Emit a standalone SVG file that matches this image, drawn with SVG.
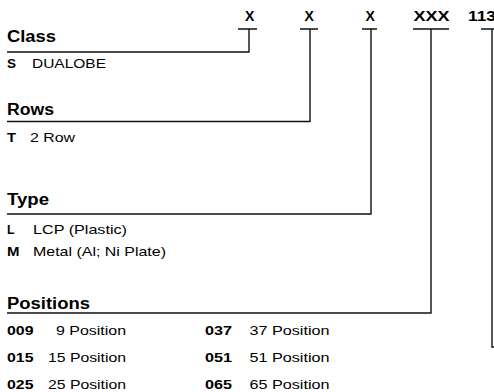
<svg xmlns="http://www.w3.org/2000/svg" width="494" height="392" viewBox="0 0 494 392">
<style>
text{font-family:"Liberation Sans",Arial,sans-serif;fill:#000}
.h{font-weight:bold;font-size:16px}
.c{font-weight:bold;font-size:14px}
.k{font-weight:bold;font-size:13px}
.t{font-size:13px}
.ln{fill:none;stroke:#111;stroke-width:1.4}
</style>
<rect width="494" height="392" fill="#fff"/>
<g id="code">
<text class="c" x="245" y="21">X</text>
<text class="c" x="304.5" y="21">X</text>
<text class="c" x="365.5" y="21">X</text>
<text class="c" x="413.5" y="21" textLength="36" lengthAdjust="spacingAndGlyphs">XXX</text>
<text class="c" x="468" y="21" textLength="28" lengthAdjust="spacingAndGlyphs">113</text>
</g>
<g id="class">
<text class="h" x="7" y="41.5" textLength="49" lengthAdjust="spacingAndGlyphs">Class</text>
<text class="k" x="7" y="68" textLength="9" lengthAdjust="spacingAndGlyphs">S</text>
<text class="t" x="32" y="68" textLength="74" lengthAdjust="spacingAndGlyphs">DUALOBE</text>
</g>
<g id="rows">
<text class="h" x="7" y="115" textLength="47" lengthAdjust="spacingAndGlyphs">Rows</text>
<text class="k" x="7" y="141.5" textLength="9" lengthAdjust="spacingAndGlyphs">T</text>
<text class="t" x="30" y="141.5" textLength="45" lengthAdjust="spacingAndGlyphs">2 Row</text>
</g>
<g id="type">
<text class="h" x="7" y="205" textLength="42" lengthAdjust="spacingAndGlyphs">Type</text>
<text class="k" x="7" y="233.5" textLength="7.5" lengthAdjust="spacingAndGlyphs">L</text>
<text class="t" x="33" y="233.5" textLength="94" lengthAdjust="spacingAndGlyphs">LCP (Plastic)</text>
<text class="k" x="7" y="256" textLength="12.5" lengthAdjust="spacingAndGlyphs">M</text>
<text class="t" x="33" y="256" textLength="133" lengthAdjust="spacingAndGlyphs">Metal (Al; Ni Plate)</text>
</g>
<g id="positions">
<text class="h" x="7" y="308.5" textLength="83" lengthAdjust="spacingAndGlyphs">Positions</text>
<text class="k" x="7" y="335" textLength="26.5" lengthAdjust="spacingAndGlyphs">009</text>
<text class="t" x="56" y="335" textLength="70" lengthAdjust="spacingAndGlyphs">9 Position</text>
<text class="k" x="7" y="362" textLength="26.5" lengthAdjust="spacingAndGlyphs">015</text>
<text class="t" x="48" y="362" textLength="78" lengthAdjust="spacingAndGlyphs">15 Position</text>
<text class="k" x="7" y="388.5" textLength="26.5" lengthAdjust="spacingAndGlyphs">025</text>
<text class="t" x="48" y="388.5" textLength="78" lengthAdjust="spacingAndGlyphs">25 Position</text>
<text class="k" x="205" y="335" textLength="27" lengthAdjust="spacingAndGlyphs">037</text>
<text class="t" x="249.5" y="335" textLength="80" lengthAdjust="spacingAndGlyphs">37 Position</text>
<text class="k" x="205" y="362" textLength="27" lengthAdjust="spacingAndGlyphs">051</text>
<text class="t" x="249.5" y="362" textLength="80" lengthAdjust="spacingAndGlyphs">51 Position</text>
<text class="k" x="205" y="388.5" textLength="27" lengthAdjust="spacingAndGlyphs">065</text>
<text class="t" x="249.5" y="388.5" textLength="80" lengthAdjust="spacingAndGlyphs">65 Position</text>
</g>
<g id="connectors">
<path class="ln" d="M238 29H257M249 29V52H7"/>
<path class="ln" d="M300 29H318M310 29V121.5H7"/>
<path class="ln" d="M362 29H377M371 29V214H7"/>
<path class="ln" d="M413 29H449M431 29V313H7"/>
<path class="ln" d="M481 29H494M492 29V347H494"/>
</g>
</svg>
